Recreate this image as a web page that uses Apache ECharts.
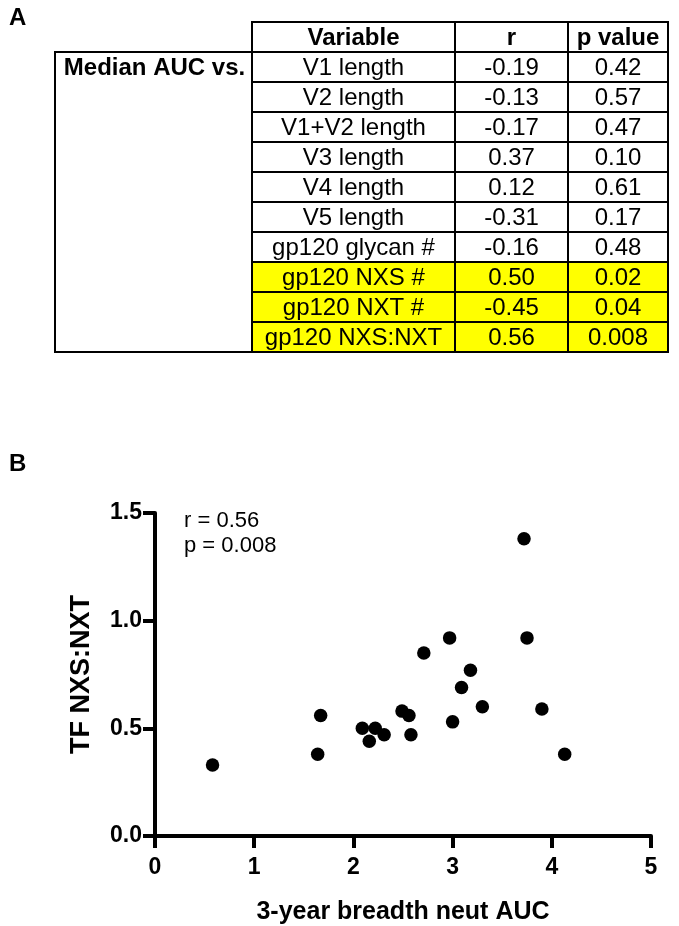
<!DOCTYPE html>
<html>
<head>
<meta charset="utf-8">
<script src="https://cdn.jsdelivr.net/npm/echarts@6/dist/echarts.min.js"></script>
<style>html,body{margin:0;padding:0;background:#fff;}#main{width:679px;height:926px;}</style>
</head>
<body>
<div id="main"></div>
<script>
// ---- Table data (panel A) ----
const tableHeader = ['Variable', 'r', 'p value'];
const rowGroupLabel = 'Median AUC vs.';
const variables = ['V1 length', 'V2 length', 'V1+V2 length', 'V3 length', 'V4 length', 'V5 length', 'gp120 glycan #', 'gp120 NXS #', 'gp120 NXT #', 'gp120 NXS:NXT'];
const rValues = ['-0.19', '-0.13', '-0.17', '0.37', '0.12', '-0.31', '-0.16', '0.50', '-0.45', '0.56'];
const pValues = ['0.42', '0.57', '0.47', '0.10', '0.61', '0.17', '0.48', '0.02', '0.04', '0.008'];
const highlighted = [false, false, false, false, false, false, false, true, true, true];

// ---- Scatter data (panel B) ----
const breadthAUC = [0.58, 1.64, 1.67, 2.09, 2.16, 2.22, 2.31, 2.49, 2.56, 2.58, 3.00, 3.09, 3.30, 3.90, 4.13, 2.71, 2.97, 3.18, 3.72, 3.75];
const nxsNxt     = [0.33, 0.38, 0.56, 0.50, 0.44, 0.50, 0.47, 0.58, 0.56, 0.47, 0.53, 0.69, 0.60, 0.59, 0.38, 0.85, 0.92, 0.77, 1.38, 0.92];
const xTicks = [0, 1, 2, 3, 4, 5];
const yTicks = [0.0, 0.5, 1.0, 1.5];
const statsText = ['r = 0.56', 'p = 0.008'];

const FONT = 'Liberation Sans, Arial, sans-serif';

// ---- build table graphics ----
const T = { boxLeft: 55, left: 252, c1: 455, c2: 568, right: 668, top: 22, hh: 30, rh: 30 };
const g = [];
const bodyTop = T.top + T.hh;
const bodyBottom = bodyTop + variables.length * T.rh;
variables.forEach((v, i) => {
  if (highlighted[i]) {
    g.push({ type: 'rect', shape: { x: T.left, y: bodyTop + i * T.rh, width: T.right - T.left, height: T.rh },
      style: { fill: '#ffff00' }, z: 1 });
  }
});
const lineStyle = { stroke: '#000', lineWidth: 2 };
for (let i = 0; i <= variables.length + 1; i++) {
  const y = i === 0 ? T.top : bodyTop + (i - 1) * T.rh;
  g.push({ type: 'line', shape: { x1: T.left, y1: y, x2: T.right, y2: y }, style: lineStyle, z: 2 });
}
[T.left, T.c1, T.c2, T.right].forEach(x => {
  g.push({ type: 'line', shape: { x1: x, y1: T.top - 1, x2: x, y2: bodyBottom + 1 }, style: lineStyle, z: 2 });
});
g.push({ type: 'line', shape: { x1: T.boxLeft - 1, y1: bodyTop, x2: T.left, y2: bodyTop }, style: lineStyle, z: 2 });
g.push({ type: 'line', shape: { x1: T.boxLeft, y1: bodyTop, x2: T.boxLeft, y2: bodyBottom }, style: lineStyle, z: 2 });
g.push({ type: 'line', shape: { x1: T.boxLeft - 1, y1: bodyBottom, x2: T.left, y2: bodyBottom }, style: lineStyle, z: 2 });
const colCenters = [(T.left + T.c1) / 2, (T.c1 + T.c2) / 2, (T.c2 + T.right) / 2];
const dy = 1;
tableHeader.forEach((h, j) => {
  g.push({ type: 'text', x: colCenters[j], y: T.top + T.hh / 2 + dy, z: 3,
    style: { text: h, font: 'bold 24px ' + FONT, fill: '#000', align: 'center', verticalAlign: 'middle' } });
});
variables.forEach((v, i) => {
  const cy = bodyTop + i * T.rh + T.rh / 2 + dy;
  [v, rValues[i], pValues[i]].forEach((t, j) => {
    g.push({ type: 'text', x: colCenters[j], y: cy, z: 3,
      style: { text: t, font: '24px ' + FONT, fill: '#000', align: 'center', verticalAlign: 'middle' } });
  });
});
g.push({ type: 'text', x: (T.boxLeft + T.left) / 2 + 1, y: bodyTop + T.rh / 2 + dy, z: 3,
  style: { text: rowGroupLabel, font: 'bold 24px ' + FONT, fill: '#000', align: 'center', verticalAlign: 'middle' } });
g.push({ type: 'text', x: 9, y: 18, style: { text: 'A', font: 'bold 24px ' + FONT, fill: '#000', verticalAlign: 'middle' } });
g.push({ type: 'text', x: 9, y: 464, style: { text: 'B', font: 'bold 24px ' + FONT, fill: '#000', verticalAlign: 'middle' } });
statsText.forEach((t, i) => {
  g.push({ type: 'text', x: 184, y: 521 + i * 25, z: 3,
    style: { text: t, font: '22px ' + FONT, fill: '#000', verticalAlign: 'middle' } });
});

const chart = echarts.init(document.getElementById('main'), null, { renderer: 'canvas' });
chart.setOption({
  backgroundColor: '#fff',
  animation: false,
  textStyle: { fontFamily: FONT },
  grid: { left: 155, right: 28, top: 513, bottom: 83, containLabel: false },
  xAxis: {
    type: 'value', min: xTicks[0], max: xTicks[xTicks.length - 1], interval: 1,
    name: '3-year breadth neut AUC', nameLocation: 'middle', nameGap: 64,
    nameTextStyle: { fontWeight: 'bold', fontSize: 25, color: '#000', fontFamily: FONT },
    axisLine: { show: true, onZero: false, lineStyle: { color: '#000', width: 4 } },
    axisTick: { show: true, length: 12, lineStyle: { color: '#000', width: 4 } },
    axisLabel: { fontWeight: 'bold', fontSize: 23, color: '#000', margin: 20, fontFamily: FONT },
    splitLine: { show: false }
  },
  yAxis: {
    type: 'value', min: yTicks[0], max: yTicks[yTicks.length - 1], interval: 0.5,
    name: 'TF NXS:NXT', nameLocation: 'middle', nameGap: 60,
    nameTextStyle: { fontWeight: 'bold', fontSize: 27, color: '#000', fontFamily: FONT },
    axisLine: { show: true, onZero: false, lineStyle: { color: '#000', width: 4 } },
    axisTick: { show: true, length: 12, lineStyle: { color: '#000', width: 4 } },
    axisLabel: { fontWeight: 'bold', fontSize: 23, color: '#000', margin: 13, fontFamily: FONT,
      formatter: v => v.toFixed(1) },
    splitLine: { show: false }
  },
  series: [{
    type: 'scatter',
    symbol: 'circle',
    symbolSize: 13.5,
    itemStyle: { color: '#000', opacity: 1 },
    data: breadthAUC.map((x, i) => [x, nxsNxt[i]])
  }],
  graphic: g
});
</script>
</body>
</html>
